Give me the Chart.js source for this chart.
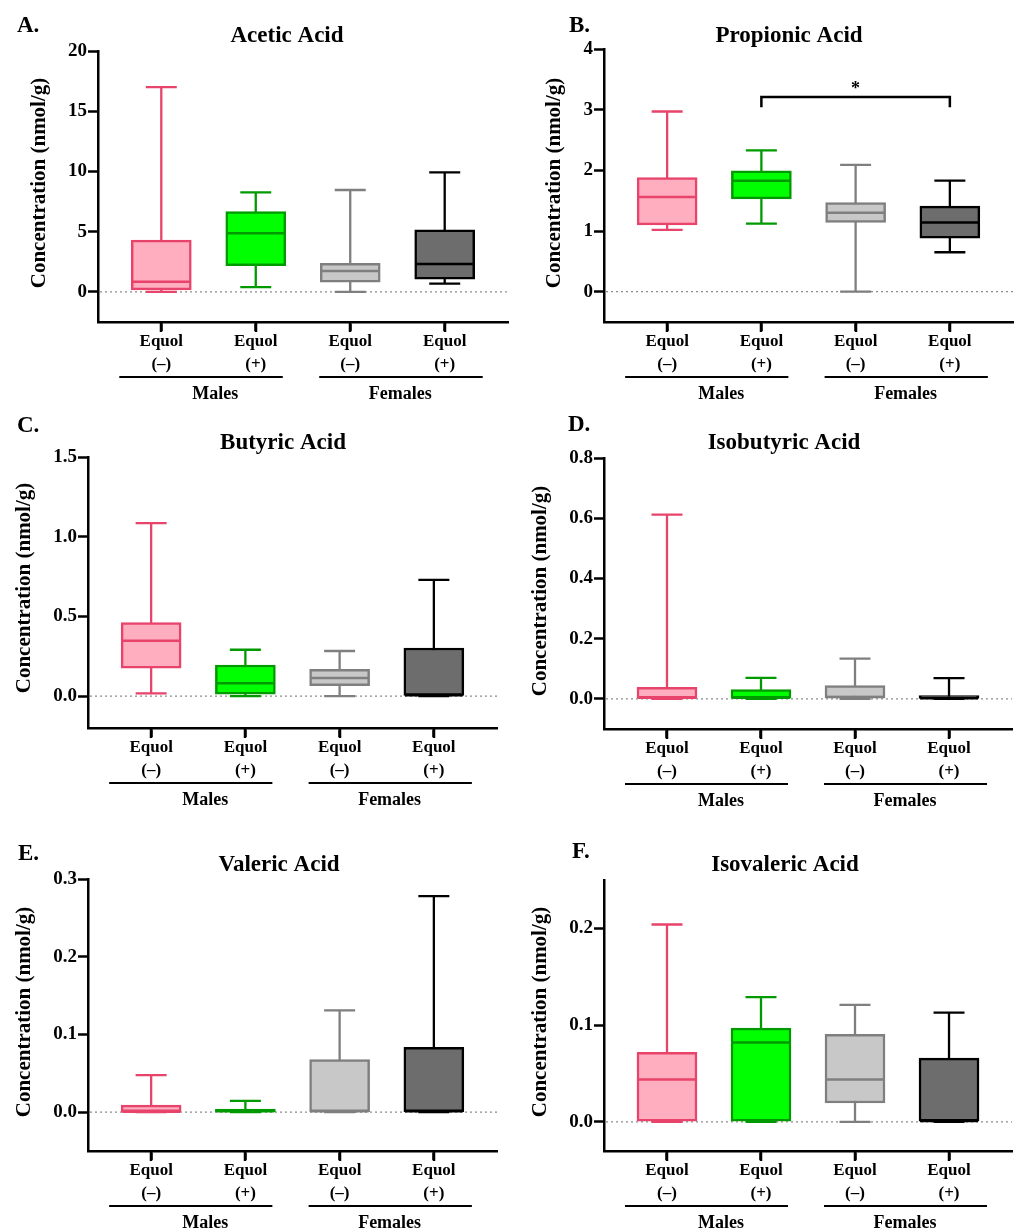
<!DOCTYPE html>
<html>
<head>
<meta charset="utf-8">
<script src="https://cdn.jsdelivr.net/npm/chart.js@4.4.1/dist/chart.umd.min.js"></script>
<style>
  body { margin: 0; background: #fff; }
  #page { position: relative; width: 1018px; height: 1230px; }
  canvas { position: absolute; }
</style>
</head>
<body>
<div id="page"></div>
<script>
// Labels
const categories = [['Equol', '(–)'], ['Equol', '(+)'], ['Equol', '(–)'], ['Equol', '(+)']];
const groups = ['Males', 'Females'];
const panelLetters = ['A.', 'B.', 'C.', 'D.', 'E.', 'F.'];
const panelTitles = ['Acetic Acid', 'Propionic Acid', 'Butyric Acid', 'Isobutyric Acid', 'Valeric Acid', 'Isovaleric Acid'];
const yAxisTitle = 'Concentration (nmol/g)';

// Box values for each group: [min, q1, median, q3, max]
const acetic = [
    [0.0, 0.17, 0.85, 4.30, 17.0],
    [0.39, 2.18, 4.87, 6.66, 8.27],
    [0.0, 0.80, 1.74, 2.38, 8.46],
    [0.69, 1.05, 2.32, 5.15, 9.93]
];
const propionic = [
    [1.02, 1.10, 1.56, 1.88, 2.97],
    [1.12, 1.53, 1.83, 1.99, 2.33],
    [0.0, 1.14, 1.30, 1.47, 2.09],
    [0.65, 0.88, 1.14, 1.41, 1.83]
];
const butyric = [
    [0.017, 0.176, 0.348, 0.461, 1.085],
    [0.0, 0.013, 0.080, 0.195, 0.291],
    [0.0, 0.065, 0.113, 0.168, 0.283],
    [0.0, 0.004, 0.006, 0.302, 0.729]
];
const isobutyric = [
    [0.0, 0.002, 0.004, 0.038, 0.612],
    [0.0, 0.002, 0.004, 0.031, 0.070],
    [0.0, 0.003, 0.006, 0.044, 0.134],
    [0.0, 0.0, 0.002, 0.011, 0.069]
];
const valeric = [
    [0.0, 0.0, 0.0005, 0.009, 0.0477],
    [0.0, 0.0, 0.001, 0.004, 0.0146],
    [0.0, 0.0, 0.001, 0.0675, 0.131],
    [0.0, 0.0, 0.001, 0.0834, 0.278]
];
const isovaleric = [
    [0.0, 0.0007, 0.044, 0.072, 0.204],
    [0.0, 0.0007, 0.082, 0.097, 0.129],
    [0.0, 0.0196, 0.044, 0.0905, 0.121],
    [0.0, 0.0007, 0.001, 0.066, 0.113]
];
const panelData = [acetic, propionic, butyric, isobutyric, valeric, isovaleric];

// Y axes
const yRanges = [[-2.5, 20], [-0.5, 4], [-0.2, 1.5], [-0.1, 0.8], [-0.05, 0.3], [-0.03, 0.25]];
const yTicks = [
    [0, 5, 10, 15, 20],
    [0, 1, 2, 3, 4],
    [0, 0.5, 1.0, 1.5],
    [0, 0.2, 0.4, 0.6, 0.8],
    [0, 0.1, 0.2, 0.3],
    [0, 0.1, 0.2]
];
const yTickLabels = [
    ['0', '5', '10', '15', '20'],
    ['0', '1', '2', '3', '4'],
    ['0.0', '0.5', '1.0', '1.5'],
    ['0.0', '0.2', '0.4', '0.6', '0.8'],
    ['0.0', '0.1', '0.2', '0.3'],
    ['0.0', '0.1', '0.2']
];

// significance bracket in propionic panel: [from group, to group, bar value, end value]
const propionicSig = [2, 4, 3.21, 3.04];

const fills = ['#FFAEC0', '#00FF00', '#C8C8C8', '#6D6D6D'];
const borders = ['#E8436A', '#009A00', '#7F7F7F', '#000000'];

// page layout (pixels)
const layout = [
    { canvas: [0, 0, 509, 410],     area: [98, 51, 508, 322],     letter: [17, 32],   title: [287, 42],  yTitle: [40, 183] },
    { canvas: [509, 0, 509, 410],   area: [604, 49, 1013, 322],   letter: [569, 32],  title: [789, 42],  yTitle: [555, 183] },
    { canvas: [0, 410, 509, 420],   area: [88, 457, 497, 728],    letter: [17, 432],  title: [283, 449], yTitle: [25, 588] },
    { canvas: [509, 410, 509, 420], area: [604, 458, 1012, 729],  letter: [568, 431], title: [784, 449], yTitle: [541, 591] },
    { canvas: [0, 830, 509, 400],   area: [88, 879, 497, 1151],   letter: [18, 860],  title: [279, 871], yTitle: [25, 1012] },
    { canvas: [509, 830, 509, 400], area: [604, 880, 1012, 1151], letter: [572, 858], title: [785, 871], yTitle: [541, 1012] }
];

const FONT = "'Liberation Serif', 'Times New Roman', serif";

function makeDecor(p) {
    const L = layout[p];
    const boxes = panelData[p];
    const ox = L.canvas[0], oy = L.canvas[1];
    return {
        id: 'boxDecor' + p,
        beforeDatasetsDraw(chart) {
            const { ctx, chartArea, scales: { x, y } } = chart;
            ctx.save();
            // dotted zero line
            const y0 = y.getPixelForValue(0);
            ctx.strokeStyle = '#8c8c8c';
            ctx.lineWidth = 1.3;
            ctx.setLineDash([2, 3]);
            ctx.beginPath();
            ctx.moveTo(chartArea.left + 2, y0);
            ctx.lineTo(chartArea.right, y0);
            ctx.stroke();
            ctx.setLineDash([]);
            // whiskers
            boxes.forEach((b, i) => {
                const px = x.getPixelForValue(i + 1);
                ctx.strokeStyle = borders[i];
                ctx.lineWidth = 2.3;
                ctx.beginPath();
                ctx.moveTo(px, y.getPixelForValue(b[0]));
                ctx.lineTo(px, y.getPixelForValue(b[4]));
                [b[0], b[4]].forEach(v => {
                    const py = y.getPixelForValue(v);
                    ctx.moveTo(px - 15.5, py);
                    ctx.lineTo(px + 15.5, py);
                });
                ctx.stroke();
            });
            ctx.restore();
        },
        afterDatasetsDraw(chart) {
            const { ctx, scales: { x, y } } = chart;
            ctx.save();
            boxes.forEach((b, i) => {
                const px = x.getPixelForValue(i + 1);
                const py = y.getPixelForValue(b[2]);
                ctx.strokeStyle = borders[i];
                ctx.lineWidth = 2.5;
                ctx.beginPath();
                ctx.moveTo(px - 29, py);
                ctx.lineTo(px + 29, py);
                ctx.stroke();
            });
            ctx.restore();
        },
        afterDraw(chart) {
            const { ctx, chartArea, scales: { x, y } } = chart;
            ctx.save();
            ctx.fillStyle = '#000';
            ctx.strokeStyle = '#000';
            // x tick marks
            const c = [1, 2, 3, 4].map(v => x.getPixelForValue(v));
            ctx.lineWidth = 2.5;
            ctx.beginPath();
            c.forEach(px => {
                ctx.moveTo(Math.round(px), chartArea.bottom);
                ctx.lineTo(Math.round(px), chartArea.bottom + 10);
            });
            ctx.stroke();
            // panel letter and title
            ctx.textBaseline = 'alphabetic';
            ctx.textAlign = 'left';
            ctx.font = 'bold 23px ' + FONT;
            ctx.fillText(panelLetters[p], L.letter[0] - ox, L.letter[1] - oy);
            ctx.textAlign = 'center';
            ctx.font = 'bold 23px ' + FONT;
            ctx.fillText(panelTitles[p], L.title[0] - ox, L.title[1] - oy);
            // y axis title
            ctx.save();
            ctx.translate(L.yTitle[0] - ox, L.yTitle[1] - oy);
            ctx.rotate(-Math.PI / 2);
            ctx.textBaseline = 'middle';
            ctx.font = 'bold 21px ' + FONT;
            ctx.fillText(yAxisTitle, 0, 0);
            ctx.restore();
            // group lines and labels
            const gy = chartArea.bottom + 55;
            ctx.lineWidth = 2;
            ctx.beginPath();
            ctx.moveTo(c[0] - 42, gy); ctx.lineTo(c[1] + 27, gy);
            ctx.moveTo(c[2] - 31, gy); ctx.lineTo(c[3] + 38, gy);
            ctx.stroke();
            ctx.font = 'bold 18px ' + FONT;
            ctx.fillText(groups[0], c[0] + 54, chartArea.bottom + 77);
            ctx.fillText(groups[1], c[2] + 50, chartArea.bottom + 77);
            // significance bracket
            if (p === 1) {
                const [g1, g2, top, end] = propionicSig;
                const x1 = x.getPixelForValue(g1), x2 = x.getPixelForValue(g2);
                const yt = y.getPixelForValue(top), ye = y.getPixelForValue(end);
                ctx.lineWidth = 2.5;
                ctx.beginPath();
                ctx.moveTo(x1, ye); ctx.lineTo(x1, yt); ctx.lineTo(x2, yt); ctx.lineTo(x2, ye);
                ctx.stroke();
                ctx.font = 'bold 18px ' + FONT;
                ctx.fillText('*', (x1 + x2) / 2, yt - 3);
            }
            ctx.restore();
        }
    };
}

const page = document.getElementById('page');

panelData.forEach((boxes, p) => {
    const L = layout[p];
    const [cx, cy, cw, ch] = L.canvas;
    const [al, at, ar, ab] = L.area;
    const canvas = document.createElement('canvas');
    canvas.width = cw;
    canvas.height = ch;
    canvas.style.left = cx + 'px';
    canvas.style.top = cy + 'px';
    page.appendChild(canvas);

    new Chart(canvas.getContext('2d'), {
        type: 'bar',
        data: {
            datasets: [{
                data: boxes.map((b, i) => ({ x: i + 1, y: [b[1], b[3]] })),
                backgroundColor: fills,
                borderColor: borders,
                borderWidth: 2.5,
                borderSkipped: false,
                barThickness: 60
            }]
        },
        options: {
            responsive: false,
            animation: false,
            events: [],
            layout: { padding: { top: at - cy, right: cx + cw - ar, left: 0, bottom: 0 } },
            plugins: { legend: { display: false }, tooltip: { enabled: false }, title: { display: false } },
            scales: {
                x: {
                    type: 'linear',
                    offset: false,
                    min: 0.33,
                    max: 4.67,
                    afterBuildTicks: s => { s.ticks = [1, 2, 3, 4].map(v => ({ value: v })); },
                    afterFit: s => { s.height = cy + ch - ab; },
                    border: { display: true, color: '#000', width: 2.5 },
                    grid: { offset: false, drawOnChartArea: false, drawTicks: true, tickLength: 9, tickWidth: 2.5, tickColor: '#000' },
                    ticks: {
                        autoSkip: false, maxRotation: 0, minRotation: 0, padding: -1,
                        color: '#000',
                        font: { family: FONT, size: 17, weight: 'bold', lineHeight: 1.35 },
                        callback: v => categories[v - 1]
                    }
                },
                y: {
                    type: 'linear',
                    min: yRanges[p][0],
                    max: yRanges[p][1],
                    afterBuildTicks: s => { s.ticks = yTicks[p].map(v => ({ value: v })); },
                    afterFit: s => { s.width = al - cx; },
                    border: { display: true, color: '#000', width: 2.5 },
                    grid: { drawOnChartArea: false, drawTicks: true, tickLength: 10, tickWidth: 2.5, tickColor: '#000' },
                    ticks: {
                        padding: 1,
                        color: '#000',
                        font: { family: FONT, size: 19, weight: 'bold' },
                        callback: (v, i) => yTickLabels[p][i]
                    }
                }
            }
        },
        plugins: [makeDecor(p)]
    });
});
</script>
</body>
</html>
